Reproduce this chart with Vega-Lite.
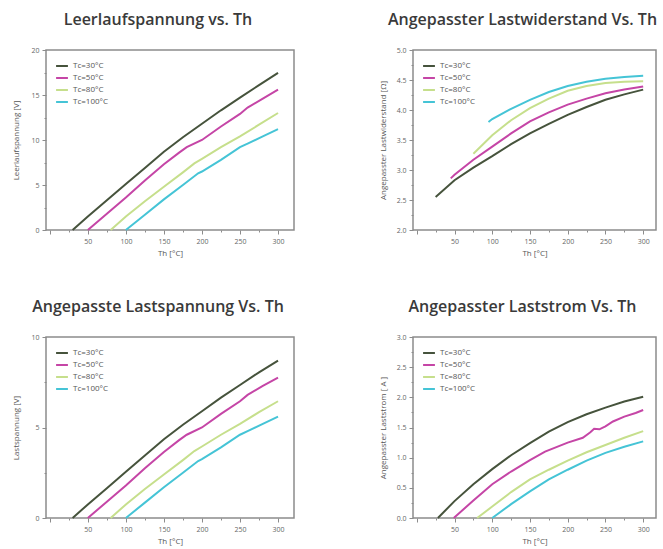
{
  "$schema": "https://vega.github.io/schema/vega-lite/v6.json",
  "padding": {"left": 11, "top": 11, "right": 0, "bottom": 0},
  "bounds": "flush",
  "columns": 2,
  "spacing": {"row": 107, "column": 119},
  "resolve": {
    "scale": {"color": "independent", "x": "independent", "y": "independent"},
    "legend": {"color": "independent"}
  },
  "config": {
    "font": "Open Sans",
    "view": {"stroke": "#8c8c8c", "strokeWidth": 1.5},
    "axis": {
      "labelFontSize": 7,
      "labelColor": "#666666",
      "titleFontSize": 8,
      "titleFontWeight": "normal",
      "titleColor": "#555555",
      "domain": false,
      "grid": false,
      "tickColor": "#8c8c8c",
      "labelPadding": 3
    },
    "axisY": {"titleX": -30, "titleBaseline": "middle"},
    "axisX": {"titleY": 23.5, "titleBaseline": "middle"},
    "title": {"fontSize": 16, "fontWeight": 600, "color": "#3a3a3a", "anchor": "middle", "dx": -12, "offset": 18},
    "legend": {
      "orient": "top-left",
      "offset": 9,
      "title": null,
      "labelFontSize": 8,
      "labelColor": "#555555",
      "symbolType": "stroke",
      "symbolStrokeWidth": 2,
      "symbolSize": 140,
      "rowPadding": 1,
      "padding": 0
    },
    "line": {"strokeWidth": 2}
  },
  "datasets": {
    "p1": [
      {"tc": "Tc=30°C", "th": 30, "v": 0}, {"tc": "Tc=30°C", "th": 50, "v": 1.5}, {"tc": "Tc=30°C", "th": 75, "v": 3.3}, {"tc": "Tc=30°C", "th": 100, "v": 5.1}, {"tc": "Tc=30°C", "th": 125, "v": 6.9}, {"tc": "Tc=30°C", "th": 150, "v": 8.7}, {"tc": "Tc=30°C", "th": 175, "v": 10.3}, {"tc": "Tc=30°C", "th": 200, "v": 11.8}, {"tc": "Tc=30°C", "th": 225, "v": 13.3}, {"tc": "Tc=30°C", "th": 250, "v": 14.7}, {"tc": "Tc=30°C", "th": 275, "v": 16.1}, {"tc": "Tc=30°C", "th": 300, "v": 17.45},
      {"tc": "Tc=50°C", "th": 50, "v": 0}, {"tc": "Tc=50°C", "th": 75, "v": 1.8}, {"tc": "Tc=50°C", "th": 100, "v": 3.6}, {"tc": "Tc=50°C", "th": 125, "v": 5.5}, {"tc": "Tc=50°C", "th": 150, "v": 7.3}, {"tc": "Tc=50°C", "th": 170, "v": 8.6}, {"tc": "Tc=50°C", "th": 180, "v": 9.2}, {"tc": "Tc=50°C", "th": 200, "v": 10.0}, {"tc": "Tc=50°C", "th": 225, "v": 11.5}, {"tc": "Tc=50°C", "th": 250, "v": 12.9}, {"tc": "Tc=50°C", "th": 260, "v": 13.6}, {"tc": "Tc=50°C", "th": 280, "v": 14.6}, {"tc": "Tc=50°C", "th": 300, "v": 15.6},
      {"tc": "Tc=80°C", "th": 80, "v": 0}, {"tc": "Tc=80°C", "th": 100, "v": 1.5}, {"tc": "Tc=80°C", "th": 125, "v": 3.2}, {"tc": "Tc=80°C", "th": 150, "v": 4.8}, {"tc": "Tc=80°C", "th": 175, "v": 6.4}, {"tc": "Tc=80°C", "th": 190, "v": 7.4}, {"tc": "Tc=80°C", "th": 200, "v": 7.9}, {"tc": "Tc=80°C", "th": 225, "v": 9.2}, {"tc": "Tc=80°C", "th": 250, "v": 10.4}, {"tc": "Tc=80°C", "th": 275, "v": 11.7}, {"tc": "Tc=80°C", "th": 300, "v": 13.0},
      {"tc": "Tc=100°C", "th": 100, "v": 0}, {"tc": "Tc=100°C", "th": 125, "v": 1.7}, {"tc": "Tc=100°C", "th": 150, "v": 3.4}, {"tc": "Tc=100°C", "th": 175, "v": 5.0}, {"tc": "Tc=100°C", "th": 195, "v": 6.3}, {"tc": "Tc=100°C", "th": 200, "v": 6.5}, {"tc": "Tc=100°C", "th": 225, "v": 7.8}, {"tc": "Tc=100°C", "th": 250, "v": 9.2}, {"tc": "Tc=100°C", "th": 260, "v": 9.6}, {"tc": "Tc=100°C", "th": 280, "v": 10.4}, {"tc": "Tc=100°C", "th": 300, "v": 11.2}
    ],
    "p2": [
      {"tc": "Tc=30°C", "th": 25, "v": 2.55}, {"tc": "Tc=30°C", "th": 50, "v": 2.83}, {"tc": "Tc=30°C", "th": 75, "v": 3.04}, {"tc": "Tc=30°C", "th": 100, "v": 3.23}, {"tc": "Tc=30°C", "th": 125, "v": 3.43}, {"tc": "Tc=30°C", "th": 150, "v": 3.61}, {"tc": "Tc=30°C", "th": 175, "v": 3.77}, {"tc": "Tc=30°C", "th": 200, "v": 3.92}, {"tc": "Tc=30°C", "th": 225, "v": 4.05}, {"tc": "Tc=30°C", "th": 250, "v": 4.17}, {"tc": "Tc=30°C", "th": 275, "v": 4.26}, {"tc": "Tc=30°C", "th": 300, "v": 4.34},
      {"tc": "Tc=50°C", "th": 45, "v": 2.86}, {"tc": "Tc=50°C", "th": 50, "v": 2.92}, {"tc": "Tc=50°C", "th": 75, "v": 3.17}, {"tc": "Tc=50°C", "th": 100, "v": 3.39}, {"tc": "Tc=50°C", "th": 125, "v": 3.61}, {"tc": "Tc=50°C", "th": 150, "v": 3.81}, {"tc": "Tc=50°C", "th": 175, "v": 3.96}, {"tc": "Tc=50°C", "th": 200, "v": 4.09}, {"tc": "Tc=50°C", "th": 225, "v": 4.19}, {"tc": "Tc=50°C", "th": 250, "v": 4.28}, {"tc": "Tc=50°C", "th": 275, "v": 4.34}, {"tc": "Tc=50°C", "th": 300, "v": 4.39},
      {"tc": "Tc=80°C", "th": 75, "v": 3.27}, {"tc": "Tc=80°C", "th": 100, "v": 3.58}, {"tc": "Tc=80°C", "th": 125, "v": 3.83}, {"tc": "Tc=80°C", "th": 150, "v": 4.03}, {"tc": "Tc=80°C", "th": 175, "v": 4.19}, {"tc": "Tc=80°C", "th": 200, "v": 4.32}, {"tc": "Tc=80°C", "th": 225, "v": 4.40}, {"tc": "Tc=80°C", "th": 250, "v": 4.45}, {"tc": "Tc=80°C", "th": 275, "v": 4.47}, {"tc": "Tc=80°C", "th": 300, "v": 4.48},
      {"tc": "Tc=100°C", "th": 95, "v": 3.80}, {"tc": "Tc=100°C", "th": 100, "v": 3.85}, {"tc": "Tc=100°C", "th": 125, "v": 4.02}, {"tc": "Tc=100°C", "th": 150, "v": 4.17}, {"tc": "Tc=100°C", "th": 175, "v": 4.30}, {"tc": "Tc=100°C", "th": 200, "v": 4.40}, {"tc": "Tc=100°C", "th": 225, "v": 4.47}, {"tc": "Tc=100°C", "th": 250, "v": 4.52}, {"tc": "Tc=100°C", "th": 275, "v": 4.55}, {"tc": "Tc=100°C", "th": 300, "v": 4.57}
    ],
    "p3": [
      {"tc": "Tc=30°C", "th": 30, "v": 0}, {"tc": "Tc=30°C", "th": 50, "v": 0.75}, {"tc": "Tc=30°C", "th": 75, "v": 1.65}, {"tc": "Tc=30°C", "th": 100, "v": 2.55}, {"tc": "Tc=30°C", "th": 125, "v": 3.45}, {"tc": "Tc=30°C", "th": 150, "v": 4.35}, {"tc": "Tc=30°C", "th": 175, "v": 5.15}, {"tc": "Tc=30°C", "th": 200, "v": 5.9}, {"tc": "Tc=30°C", "th": 225, "v": 6.65}, {"tc": "Tc=30°C", "th": 250, "v": 7.35}, {"tc": "Tc=30°C", "th": 275, "v": 8.05}, {"tc": "Tc=30°C", "th": 300, "v": 8.7},
      {"tc": "Tc=50°C", "th": 50, "v": 0}, {"tc": "Tc=50°C", "th": 75, "v": 0.9}, {"tc": "Tc=50°C", "th": 100, "v": 1.8}, {"tc": "Tc=50°C", "th": 125, "v": 2.75}, {"tc": "Tc=50°C", "th": 150, "v": 3.65}, {"tc": "Tc=50°C", "th": 170, "v": 4.3}, {"tc": "Tc=50°C", "th": 180, "v": 4.6}, {"tc": "Tc=50°C", "th": 200, "v": 5.0}, {"tc": "Tc=50°C", "th": 225, "v": 5.75}, {"tc": "Tc=50°C", "th": 250, "v": 6.45}, {"tc": "Tc=50°C", "th": 260, "v": 6.8}, {"tc": "Tc=50°C", "th": 280, "v": 7.3}, {"tc": "Tc=50°C", "th": 300, "v": 7.75},
      {"tc": "Tc=80°C", "th": 80, "v": 0}, {"tc": "Tc=80°C", "th": 100, "v": 0.75}, {"tc": "Tc=80°C", "th": 125, "v": 1.6}, {"tc": "Tc=80°C", "th": 150, "v": 2.4}, {"tc": "Tc=80°C", "th": 175, "v": 3.2}, {"tc": "Tc=80°C", "th": 190, "v": 3.7}, {"tc": "Tc=80°C", "th": 200, "v": 3.95}, {"tc": "Tc=80°C", "th": 225, "v": 4.6}, {"tc": "Tc=80°C", "th": 250, "v": 5.2}, {"tc": "Tc=80°C", "th": 275, "v": 5.85}, {"tc": "Tc=80°C", "th": 300, "v": 6.45},
      {"tc": "Tc=100°C", "th": 100, "v": 0}, {"tc": "Tc=100°C", "th": 125, "v": 0.85}, {"tc": "Tc=100°C", "th": 150, "v": 1.7}, {"tc": "Tc=100°C", "th": 175, "v": 2.5}, {"tc": "Tc=100°C", "th": 195, "v": 3.15}, {"tc": "Tc=100°C", "th": 200, "v": 3.25}, {"tc": "Tc=100°C", "th": 225, "v": 3.9}, {"tc": "Tc=100°C", "th": 250, "v": 4.6}, {"tc": "Tc=100°C", "th": 260, "v": 4.8}, {"tc": "Tc=100°C", "th": 280, "v": 5.2}, {"tc": "Tc=100°C", "th": 300, "v": 5.6}
    ],
    "p4": [
      {"tc": "Tc=30°C", "th": 28, "v": 0}, {"tc": "Tc=30°C", "th": 50, "v": 0.28}, {"tc": "Tc=30°C", "th": 75, "v": 0.56}, {"tc": "Tc=30°C", "th": 100, "v": 0.81}, {"tc": "Tc=30°C", "th": 125, "v": 1.04}, {"tc": "Tc=30°C", "th": 150, "v": 1.24}, {"tc": "Tc=30°C", "th": 175, "v": 1.43}, {"tc": "Tc=30°C", "th": 200, "v": 1.59}, {"tc": "Tc=30°C", "th": 225, "v": 1.72}, {"tc": "Tc=30°C", "th": 250, "v": 1.83}, {"tc": "Tc=30°C", "th": 275, "v": 1.93}, {"tc": "Tc=30°C", "th": 300, "v": 2.01},
      {"tc": "Tc=50°C", "th": 49, "v": 0}, {"tc": "Tc=50°C", "th": 75, "v": 0.29}, {"tc": "Tc=50°C", "th": 100, "v": 0.56}, {"tc": "Tc=50°C", "th": 125, "v": 0.77}, {"tc": "Tc=50°C", "th": 150, "v": 0.96}, {"tc": "Tc=50°C", "th": 170, "v": 1.1}, {"tc": "Tc=50°C", "th": 200, "v": 1.25}, {"tc": "Tc=50°C", "th": 220, "v": 1.33}, {"tc": "Tc=50°C", "th": 230, "v": 1.42}, {"tc": "Tc=50°C", "th": 235, "v": 1.48}, {"tc": "Tc=50°C", "th": 242, "v": 1.47}, {"tc": "Tc=50°C", "th": 250, "v": 1.52}, {"tc": "Tc=50°C", "th": 260, "v": 1.6}, {"tc": "Tc=50°C", "th": 275, "v": 1.68}, {"tc": "Tc=50°C", "th": 290, "v": 1.74}, {"tc": "Tc=50°C", "th": 300, "v": 1.79},
      {"tc": "Tc=80°C", "th": 80, "v": 0}, {"tc": "Tc=80°C", "th": 100, "v": 0.19}, {"tc": "Tc=80°C", "th": 125, "v": 0.43}, {"tc": "Tc=80°C", "th": 150, "v": 0.64}, {"tc": "Tc=80°C", "th": 175, "v": 0.8}, {"tc": "Tc=80°C", "th": 200, "v": 0.95}, {"tc": "Tc=80°C", "th": 225, "v": 1.09}, {"tc": "Tc=80°C", "th": 250, "v": 1.21}, {"tc": "Tc=80°C", "th": 275, "v": 1.33}, {"tc": "Tc=80°C", "th": 300, "v": 1.44},
      {"tc": "Tc=100°C", "th": 100, "v": 0}, {"tc": "Tc=100°C", "th": 125, "v": 0.23}, {"tc": "Tc=100°C", "th": 150, "v": 0.44}, {"tc": "Tc=100°C", "th": 175, "v": 0.64}, {"tc": "Tc=100°C", "th": 200, "v": 0.8}, {"tc": "Tc=100°C", "th": 225, "v": 0.95}, {"tc": "Tc=100°C", "th": 250, "v": 1.08}, {"tc": "Tc=100°C", "th": 275, "v": 1.18}, {"tc": "Tc=100°C", "th": 300, "v": 1.27}
    ]
  },
  "concat": [
    {
      "width": 248, "height": 180,
      "title": "Leerlaufspannung vs. Th",
      "data": {"name": "p1"},
      "mark": {"type": "line", "strokeWidth": 2},
      "encoding": {
        "x": {"field": "th", "type": "quantitative", "scale": {"domain": [-5, 321], "nice": false, "zero": false},
          "axis": {"title": "Th [°C]", "values": [0, 25, 50, 75, 100, 125, 150, 175, 200, 225, 250, 275, 300],
            "labelExpr": "datum.value % 50 === 0 && datum.value > 0 ? datum.label : ''",
            "tickSize": {"condition": {"test": "datum.value % 50 === 0", "value": 4}, "value": 2}}},
        "y": {"field": "v", "type": "quantitative", "scale": {"domain": [0, 20], "nice": false},
          "axis": {"title": "Leerlaufspannung [V]", "values": [0, 2.5, 5, 7.5, 10, 12.5, 15, 17.5, 20],
            "labelExpr": "datum.value % 5 === 0 ? datum.label : ''",
            "tickSize": {"condition": {"test": "datum.value % 5 === 0", "value": 4}, "value": 2}}},
        "color": {"field": "tc", "type": "nominal",
          "scale": {"domain": ["Tc=30°C", "Tc=50°C", "Tc=80°C", "Tc=100°C"], "range": ["#46533c", "#c545a6", "#c6df8c", "#45c4d6"]}}
      }
    },
    {
      "width": 243, "height": 180,
      "title": "Angepasster Lastwiderstand Vs. Th",
      "data": {"name": "p2"},
      "mark": {"type": "line", "strokeWidth": 2},
      "encoding": {
        "x": {"field": "th", "type": "quantitative", "scale": {"domain": [-5, 317], "nice": false, "zero": false},
          "axis": {"title": "Th [°C]", "values": [0, 25, 50, 75, 100, 125, 150, 175, 200, 225, 250, 275, 300],
            "labelExpr": "datum.value % 50 === 0 && datum.value > 0 ? datum.label : ''",
            "tickSize": {"condition": {"test": "datum.value % 50 === 0", "value": 4}, "value": 2}}},
        "y": {"field": "v", "type": "quantitative", "scale": {"domain": [2, 5], "nice": false, "zero": false},
          "axis": {"title": "Angepasster Lastwiderstand [Ω]", "format": ".1f", "values": [2, 2.25, 2.5, 2.75, 3, 3.25, 3.5, 3.75, 4, 4.25, 4.5, 4.75, 5],
            "labelExpr": "abs(datum.value * 2 - round(datum.value * 2)) < 0.001 ? datum.label : ''",
            "tickSize": {"condition": {"test": "abs(datum.value * 2 - round(datum.value * 2)) < 0.001", "value": 4}, "value": 2}}},
        "color": {"field": "tc", "type": "nominal",
          "scale": {"domain": ["Tc=30°C", "Tc=50°C", "Tc=80°C", "Tc=100°C"], "range": ["#46533c", "#c545a6", "#c6df8c", "#45c4d6"]}}
      }
    },
    {
      "width": 248, "height": 181,
      "title": "Angepasste Lastspannung Vs. Th",
      "data": {"name": "p3"},
      "mark": {"type": "line", "strokeWidth": 2},
      "encoding": {
        "x": {"field": "th", "type": "quantitative", "scale": {"domain": [-5, 321], "nice": false, "zero": false},
          "axis": {"title": "Th [°C]", "values": [0, 25, 50, 75, 100, 125, 150, 175, 200, 225, 250, 275, 300],
            "labelExpr": "datum.value % 50 === 0 && datum.value > 0 ? datum.label : ''",
            "tickSize": {"condition": {"test": "datum.value % 50 === 0", "value": 4}, "value": 2}}},
        "y": {"field": "v", "type": "quantitative", "scale": {"domain": [0, 10], "nice": false},
          "axis": {"title": "Lastspannung [V]", "values": [0, 2.5, 5, 7.5, 10],
            "labelExpr": "datum.value % 5 === 0 ? datum.label : ''",
            "tickSize": {"condition": {"test": "datum.value % 5 === 0", "value": 4}, "value": 2}}},
        "color": {"field": "tc", "type": "nominal",
          "scale": {"domain": ["Tc=30°C", "Tc=50°C", "Tc=80°C", "Tc=100°C"], "range": ["#46533c", "#c545a6", "#c6df8c", "#45c4d6"]}}
      }
    },
    {
      "width": 243, "height": 181,
      "title": "Angepasster Laststrom Vs. Th",
      "data": {"name": "p4"},
      "mark": {"type": "line", "strokeWidth": 2},
      "encoding": {
        "x": {"field": "th", "type": "quantitative", "scale": {"domain": [-5, 317], "nice": false, "zero": false},
          "axis": {"title": "Th [°C]", "values": [0, 25, 50, 75, 100, 125, 150, 175, 200, 225, 250, 275, 300],
            "labelExpr": "datum.value % 50 === 0 && datum.value > 0 ? datum.label : ''",
            "tickSize": {"condition": {"test": "datum.value % 50 === 0", "value": 4}, "value": 2}}},
        "y": {"field": "v", "type": "quantitative", "scale": {"domain": [0, 3], "nice": false},
          "axis": {"title": "Angepasster Laststrom [ A ]", "format": ".1f", "values": [0, 0.25, 0.5, 0.75, 1, 1.25, 1.5, 1.75, 2, 2.25, 2.5, 2.75, 3],
            "labelExpr": "abs(datum.value * 2 - round(datum.value * 2)) < 0.001 ? datum.label : ''",
            "tickSize": {"condition": {"test": "abs(datum.value * 2 - round(datum.value * 2)) < 0.001", "value": 4}, "value": 2}}},
        "color": {"field": "tc", "type": "nominal",
          "scale": {"domain": ["Tc=30°C", "Tc=50°C", "Tc=80°C", "Tc=100°C"], "range": ["#46533c", "#c545a6", "#c6df8c", "#45c4d6"]}}
      }
    }
  ]
}
